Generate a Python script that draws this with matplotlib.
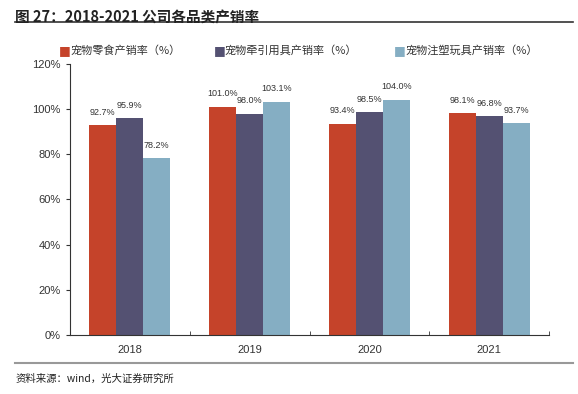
import numpy as np
import matplotlib.pyplot as plt
from matplotlib.lines import Line2D

plt.rcParams['font.family'] = ['Noto Sans CJK SC', 'DejaVu Sans']

years = ['2018', '2019', '2020', '2021']
snack = [92.7, 101.0, 93.4, 98.1]
leash = [95.9, 98.0, 98.5, 96.8]
toy = [78.2, 103.1, 104.0, 93.7]
series_names = ['宠物零食产销率（%）', '宠物牵引用具产销率（%）', '宠物注塑玩具产销率（%）']
colors = ['#C5432A', '#545172', '#85AEC3']

fig = plt.figure(figsize=(5.78, 3.94), dpi=100)
ax = fig.add_axes([0.121, 0.150, 0.829, 0.688])

x = np.arange(len(years))
w = 0.225
for i, (vals, c) in enumerate(zip([snack, leash, toy], colors)):
    pos = x + (i - 1) * w
    ax.bar(pos, vals, width=w, color=c)
    for p, v in zip(pos, vals):
        ax.text(p, v + 3.8, f'{v:.1f}%', ha='center', va='bottom', fontsize=6.5,
                family='Liberation Sans', color='#333333')

ax.set_xlim(-0.5, 3.5)
ax.set_ylim(0, 120)
ax.set_yticks(range(0, 121, 20))
ax.set_yticklabels([f'{t}%' for t in range(0, 121, 20)], family='Liberation Sans', fontsize=8, color='#333333')
ax.set_xticks(x)
ax.set_xticklabels(years, family='Liberation Sans', fontsize=8, color='#333333')
ax.set_xticks(np.arange(-0.5, 3.6, 1), minor=True)
ax.tick_params(axis='x', which='major', length=0, pad=7)
ax.tick_params(axis='x', which='minor', length=3, direction='in', color='#333333')
ax.tick_params(axis='y', length=3, direction='out', color='#333333')
for s in ['top', 'right']:
    ax.spines[s].set_visible(False)
ax.spines['left'].set_color('#333333')
ax.spines['bottom'].set_color('#333333')

# legend
lx = [0.102, 0.370, 0.682]
for xx, name, c in zip(lx, series_names, colors):
    fig.text(xx, 0.872, '■', color=c, fontsize=9, va='center', ha='left', family='DejaVu Sans')
    fig.text(xx + 0.019, 0.872, name, fontsize=8, va='center', ha='left', color='#333333')

# title and source
fig.text(0.026, 0.975, '图 27：2018-2021 公司各品类产销率', fontsize=10.5, fontweight='bold',
         va='top', ha='left', color='#222222')
fig.add_artist(Line2D([0.026, 0.991], [0.945, 0.945], color='#333333', lw=1.2))
fig.add_artist(Line2D([0.026, 0.991], [0.078, 0.078], color='#999999', lw=1.5))
fig.text(0.026, 0.040, '资料来源：wind，光大证券研究所', fontsize=7.5, va='center', ha='left', color='#222222')

fig.savefig('out.png', dpi=100)
